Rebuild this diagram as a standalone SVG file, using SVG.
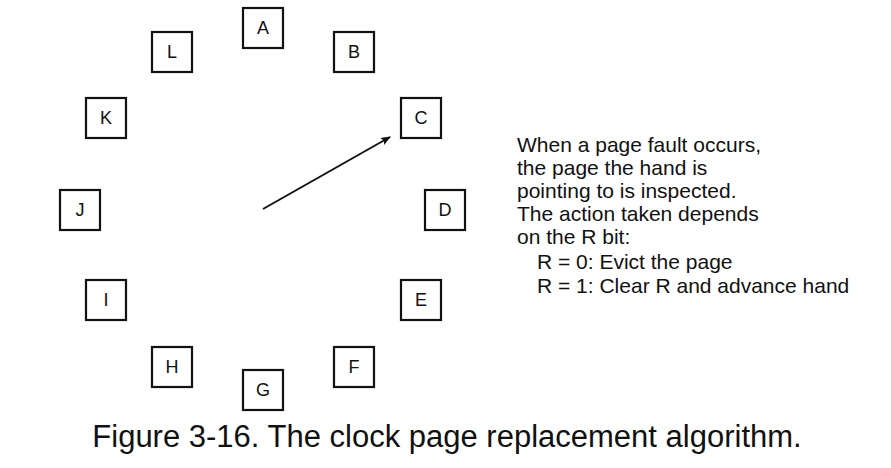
<svg xmlns="http://www.w3.org/2000/svg" width="891" height="468" viewBox="0 0 891 468">
<style>
.b{fill:#fff;stroke:#111;stroke-width:2.2}
.l{font-family:"Liberation Sans",Arial,sans-serif;font-size:18px;text-anchor:middle;fill:#111}
.t{font-family:"Liberation Sans",Arial,sans-serif;font-size:21px;fill:#111}
.c{font-family:"Liberation Sans",Arial,sans-serif;font-size:31px;text-anchor:middle;fill:#111}
</style>
<defs><marker id="ah" markerWidth="10" markerHeight="8" refX="9" refY="4" orient="auto" markerUnits="userSpaceOnUse"><path d="M0,0 L10,4 L0,8 L2,4 Z" fill="#111"/></marker></defs>
<rect width="891" height="468" fill="#fff"/>
<g id="A"><rect class="b" x="243" y="8" width="40" height="40"/><text class="l" x="263" y="34">A</text></g>
<g id="B"><rect class="b" x="334" y="32" width="40" height="40"/><text class="l" x="354" y="58">B</text></g>
<g id="C"><rect class="b" x="401" y="98" width="40" height="40"/><text class="l" x="421" y="124">C</text></g>
<g id="D"><rect class="b" x="425" y="190" width="40" height="40"/><text class="l" x="445" y="216">D</text></g>
<g id="E"><rect class="b" x="401" y="280" width="40" height="40"/><text class="l" x="421" y="306">E</text></g>
<g id="F"><rect class="b" x="334" y="347" width="40" height="40"/><text class="l" x="354" y="373">F</text></g>
<g id="G"><rect class="b" x="243" y="370" width="40" height="40"/><text class="l" x="263" y="396">G</text></g>
<g id="H"><rect class="b" x="152" y="347" width="40" height="40"/><text class="l" x="172" y="373">H</text></g>
<g id="I"><rect class="b" x="86" y="280" width="40" height="40"/><text class="l" x="106" y="306">I</text></g>
<g id="J"><rect class="b" x="60" y="190" width="40" height="40"/><text class="l" x="80" y="216">J</text></g>
<g id="K"><rect class="b" x="86" y="98" width="40" height="40"/><text class="l" x="106" y="124">K</text></g>
<g id="L"><rect class="b" x="152" y="32" width="40" height="40"/><text class="l" x="172" y="58">L</text></g>
<g id="connectors"><line x1="263" y1="209" x2="390" y2="137" stroke="#111" stroke-width="2" marker-end="url(#ah)"/></g>
<g id="note">
<text class="t" x="517" y="152">When a page fault occurs,</text>
<text class="t" x="517" y="175">the page the hand is</text>
<text class="t" x="517" y="198">pointing to is inspected.</text>
<text class="t" x="517" y="221">The action taken depends</text>
<text class="t" x="517" y="244">on the R bit:</text>
<text class="t" x="537" y="269">R = 0: Evict the page</text>
<text class="t" x="537" y="293">R = 1: Clear R and advance hand</text>
</g>
<text class="c" x="447" y="447">Figure 3-16. The clock page replacement algorithm.</text>
</svg>
